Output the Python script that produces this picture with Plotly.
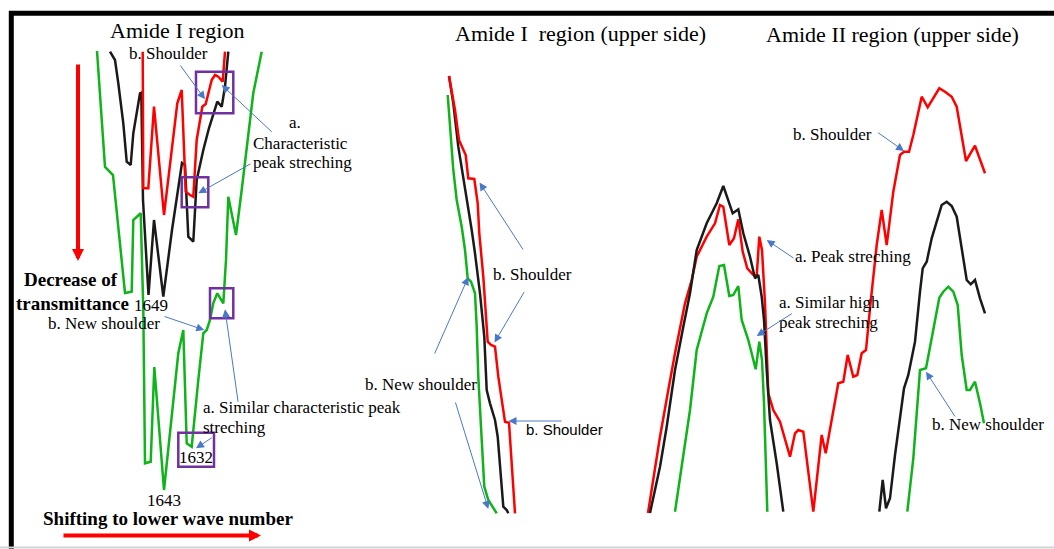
import plotly.graph_objects as go

# ---------------- data (figure pixel units) ----------------
# Panel 1 : Amide I region
p1_green_x = [97, 105, 113, 120, 123, 125, 131.7, 133.3, 140.7, 143.3, 145, 150.7, 154.3, 164, 178.3, 183.3,
              186.7, 191.7, 198.3, 203.3, 206.7, 210, 213.3, 217.3, 223.3, 226, 228.3, 236, 241.7, 253.3, 261.7]
p1_green_y = [51, 167, 175, 247, 280, 293, 291.7, 220, 213.3, 310, 463.3, 461.7, 367, 490, 353.3, 330,
              443.3, 446.7, 380, 333.3, 330, 320, 303, 293.3, 303.3, 260, 196.7, 235, 190, 93, 51.7]

p1_black_x = [110, 115, 118.3, 123.3, 126.7, 130.7, 133.3, 136.7, 140, 141.3, 143, 148.5, 154, 163.3, 172, 182,
              185, 188.3, 193.3, 196.7, 203.3, 209, 215, 217.3, 221.7, 225, 228.3]
p1_black_y = [51.7, 60, 83.3, 123.3, 161.7, 165, 133.3, 111.7, 93.3, 92.7, 200, 295, 220, 296.7, 230, 163,
              165, 236.7, 241.7, 180, 150, 128, 108.3, 101.7, 106.7, 86.7, 51.7]

p1_red_x = [142.7, 143.3, 148.3, 154, 164, 177.3, 181.7, 185.7, 190, 193.3, 196.7, 202.3, 205.7, 211.7, 215,
            218.3, 222.7, 225]
p1_red_y = [51.7, 188.3, 188.3, 106.7, 215, 103.3, 90, 191.7, 195, 196.7, 140, 106.7, 104, 80, 75,
            76.7, 81.7, 51.7]

# Panel 2 : Amide I region (upper side)
p2_red_x = [449, 455, 459, 462.3, 465.7, 468.3, 474.3, 477.7, 479.3, 483.3, 486.7, 487.7, 491, 495, 498.3,
            502, 505, 509, 511.7, 515]
p2_red_y = [76, 110, 140, 148.3, 155, 178.3, 179, 203.3, 233.3, 276.7, 323.3, 341.7, 345, 346.7, 376.7,
            403, 421.7, 422.7, 460, 513.3]

p2_black_x = [449, 453.3, 458.3, 463.3, 468.3, 471.7, 475, 480, 484.3, 486.7, 490, 495, 497.7, 500, 503.3,
              506.7, 508.3]
p2_black_y = [76, 103.3, 146.7, 176.7, 206.7, 230, 253.3, 293.3, 336.7, 390, 403.3, 420, 436.7, 463.3, 506.7,
              510, 513.3]

p2_green_x = [447.7, 450, 453.3, 456.7, 461.7, 465, 467.7, 471, 475, 476.7, 478.3, 481, 484.3, 488.3, 492.3,
              496.7]
p2_green_y = [95, 126.7, 170, 200, 226.7, 250, 278.3, 281.7, 293.3, 326.7, 376.7, 426.7, 486.7, 500, 506.7,
              513.3]

# Panel 3 : Amide II region (upper side)
p3_black1_x = [650, 660, 666.7, 675, 683.3, 690, 696.7, 706.7, 716.7, 723.3, 732.7, 738.3, 743.3, 750, 755,
               758.3, 761.7, 764, 766.7, 770, 776.7, 783.3]
p3_black1_y = [513, 466.7, 426.7, 370, 326.7, 293.3, 250, 223.3, 203.3, 186, 213.3, 209.3, 233.3, 256.7, 278.3,
               275, 296.7, 320, 370, 420, 463.3, 511.7]

p3_red_x = [648, 660, 668.3, 675, 685, 691.7, 696.7, 706.7, 715, 720, 723.3, 729.3, 734, 738.3, 742.7, 747.3,
            753.3, 756.7, 759.3, 762, 765, 768.3, 773.3, 780, 790, 795, 798.3, 803.3, 813.3, 821.7, 825.7,
            838.3, 843.3, 847.7, 853.3, 857.3, 861.7, 866, 870, 876.7, 881.7, 886.7, 893.3, 900, 904, 909,
            913.3, 921.7, 927.7, 933.3, 939.3, 945, 951.7, 956.7, 961.7, 966, 975, 985]
p3_red_y = [513, 436.7, 390, 353.3, 303.3, 280, 256.7, 236.7, 223.3, 205, 206.7, 245, 238.3, 219.3, 251.7,
            268.3, 275, 276, 236.7, 250, 303.3, 393.3, 410, 421.7, 456.7, 433.3, 430, 431.7, 511.7, 435,
            453.3, 383.3, 381.7, 355, 376.7, 375, 353.3, 350, 308.3, 245, 210, 245, 191.7, 155, 151.7, 151.7,
            135, 96.7, 107.3, 98.3, 88.3, 91.7, 96.7, 106.7, 135, 161, 145.7, 173.3]

p3_green1_x = [675, 683.3, 690, 696.7, 706.7, 713.3, 719.3, 724, 729.3, 733.3, 738.3, 741.7, 748.3, 755.7,
               759.3, 762, 764, 767.3]
p3_green1_y = [511.7, 453.3, 410, 350, 313.3, 296.7, 266, 265, 296, 295, 286, 320, 340, 369.3,
               341.7, 360, 403, 511.7]

p3_black2_x = [879.3, 882.7, 886, 890, 895, 900, 904, 908.3, 915, 920, 922.7, 926.7, 931.7, 936.7, 941.7,
               946.7, 951.7, 956.7, 961.7, 966.7, 970.7, 975, 980, 985]
p3_black2_y = [511.7, 480, 508.3, 498.3, 455, 415, 388.3, 375, 341.7, 291.7, 268.3, 261.7, 238.3, 221.7, 205,
               201.7, 206, 216.7, 248.3, 280, 284.3, 280, 298.3, 313.3]

p3_green2_x = [907.3, 913.3, 920, 926, 931.7, 939.3, 943.3, 948.3, 953.3, 957.7, 961.7, 966.7, 970, 975, 980,
               984]
p3_green2_y = [511.7, 458.3, 370, 368.3, 338.3, 297.7, 291.7, 286.7, 291.7, 305, 355, 390, 390, 381.7, 403.3,
               423.3]

# titles / labels
titles = ["Amide I region", "Amide I\u00a0 region (upper side)", "Amide II region (upper side)"]
peak_labels = ["1649", "1632", "1643"]

RED = "#ff0000"
BLACK = "#1a1a1a"
GREEN = "#0fb31a"
PURPLE = "#7030a0"
BLUE = "#4a78c8"
SERIF = "Liberation Serif"

fig = go.Figure()

curves = [
    (p1_green_x, p1_green_y, GREEN), (p1_black_x, p1_black_y, BLACK), (p1_red_x, p1_red_y, RED),
    (p2_green_x, p2_green_y, GREEN), (p2_black_x, p2_black_y, BLACK), (p2_red_x, p2_red_y, RED),
    (p3_red_x, p3_red_y, RED), (p3_black1_x, p3_black1_y, BLACK), (p3_green1_x, p3_green1_y, GREEN),
    (p3_black2_x, p3_black2_y, BLACK), (p3_green2_x, p3_green2_y, GREEN),
]
for xs, ys, col in curves:
    fig.add_trace(go.Scatter(x=xs, y=ys, mode="lines", line=dict(color=col, width=2.5),
                             hoverinfo="skip", showlegend=False))

shapes = []
# frame
shapes.append(dict(type="line", x0=9, y0=13.3, x1=1054, y1=13.3, line=dict(color="black", width=5)))
shapes.append(dict(type="line", x0=11.3, y0=11, x1=11.3, y1=549, line=dict(color="black", width=5)))
shapes.append(dict(type="line", x0=0, y0=547.5, x1=1054, y1=547.5, line=dict(color="#d4d4d4", width=2)))
# purple boxes
for (x0, y0, x1, y1) in [(196, 71.7, 233.3, 113.3), (181.7, 177.3, 208.3, 207.3),
                         (210, 288.3, 233.3, 318.3), (178.3, 432.7, 214, 466.7)]:
    shapes.append(dict(type="rect", x0=x0, y0=y0, x1=x1, y1=y1, line=dict(color=PURPLE, width=2.5)))
for s in shapes:
    s.update(xref="x", yref="y")

ann = []


def text(t, x, y, size=17, anchor="center", bold=False, family=SERIF, color="black"):
    ann.append(dict(x=x, y=y, xref="x", yref="y", text=("<b>%s</b>" % t) if bold else t,
                    showarrow=False, xanchor=anchor, yanchor="middle", borderpad=0,
                    font=dict(family=family, size=size, color=color)))


def arrow(x0, y0, x1, y1, color=BLUE, width=1, size=1.6):
    ann.append(dict(x=x1, y=y1, ax=x0, ay=y0, xref="x", yref="y", axref="x", ayref="y",
                    text="", showarrow=True, arrowhead=2, arrowsize=size, arrowwidth=width,
                    arrowcolor=color, standoff=0, startstandoff=0))


# titles
text(titles[0], 176.5, 30, size=22)
text(titles[1], 580, 33, size=22)
text(titles[2], 892, 34, size=22)

# panel 1 labels
text("b. Shoulder", 128, 53, anchor="left")
text("a.", 295, 122.5)
text("Characteristic", 300, 143)
text("peak streching", 302, 162)
text("Decrease of", 71, 279, size=19, bold=True)
text("transmittance", 72, 303, size=19, bold=True)
text(peak_labels[0], 151, 305)
text("b. New shoulder", 103.5, 323)
text("a. Similar characteristic peak", 202, 407, anchor="left")
text("streching", 202, 427, anchor="left")
text(peak_labels[1], 196, 457)
text(peak_labels[2], 164, 500)
text("Shifting to lower wave number", 42, 518, size=19, bold=True, anchor="left")

# panel 2 labels
text("b. Shoulder", 532, 274)
text("b. New shoulder", 421, 384)
text("b. Shoulder", 564, 429, size=15, family="Liberation Sans")

# panel 3 labels
text("b. Shoulder", 832, 134)
text("a. Peak streching", 853, 256)
text("a. Similar high", 778, 302, anchor="left")
text("peak streching", 778, 322, anchor="left")
text("b. New shoulder", 988, 424)

# big red arrows
arrow(78, 63, 78, 261, color=RED, width=4, size=0.6)
arrow(62, 535.5, 261, 535.5, color=RED, width=4, size=0.6)

# blue pointer arrows - panel 1
arrow(179.3, 64, 205, 99.3)
arrow(273.3, 133.3, 221.7, 85)
arrow(252, 163, 198.3, 193.3)
arrow(163, 316, 204.3, 330)
arrow(238.3, 403.3, 225, 309.3)
arrow(213.3, 436.7, 196, 448.3)
# panel 2
arrow(524, 251, 479.5, 182.5)
arrow(525, 290.6, 494.5, 342.5)
arrow(563, 421, 508.5, 421)
arrow(434, 355, 468.3, 277)
arrow(455, 401, 488.3, 509)
# panel 3
arrow(876.7, 131.7, 904, 151)
arrow(795, 259, 766.7, 240)
arrow(793.3, 312.7, 756.7, 336)
arrow(956, 418, 926, 371.7)

fig.update_layout(
    width=1054, height=549,
    margin=dict(l=0, r=0, t=0, b=0),
    paper_bgcolor="white", plot_bgcolor="white",
    xaxis=dict(range=[0, 1054], visible=False, fixedrange=True),
    yaxis=dict(range=[549, 0], visible=False, fixedrange=True),
    shapes=shapes, annotations=ann,
)

fig.write_html("out.html", config={"displayModeBar": False},
               post_script="document.body.style.margin='0';document.body.style.overflow='hidden';")
